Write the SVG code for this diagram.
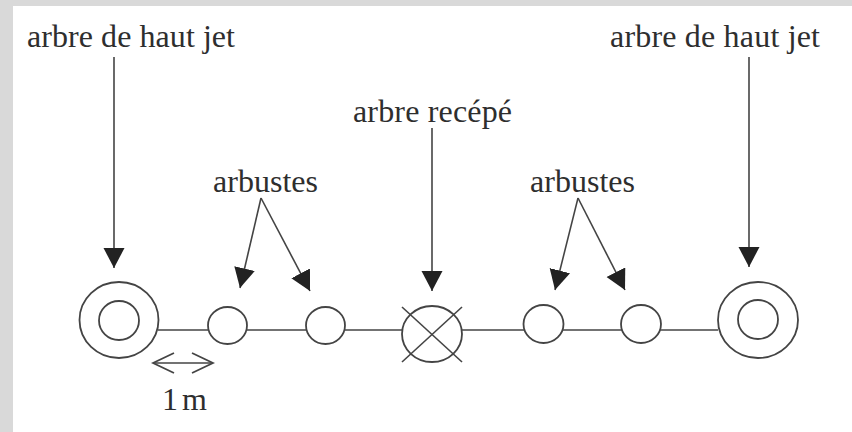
<svg xmlns="http://www.w3.org/2000/svg" width="852" height="432" viewBox="0 0 852 432">
  <style>
    .lbl { font-family: "Liberation Serif", "Times New Roman", serif; font-size: 32px; fill: #2e2e2e; }
    .ln { stroke: #444; stroke-width: 1.6; fill: none; }
    .c { stroke: #444; stroke-width: 1.8; fill: #fff; }
  </style>
  <defs>
    <marker id="ah" markerUnits="userSpaceOnUse" markerWidth="21" markerHeight="22" refX="20" refY="10.5" orient="auto">
      <path d="M0,0 L20,10.5 L0,21 z" fill="#222"/>
    </marker>
    <marker id="oh" markerUnits="userSpaceOnUse" markerWidth="24" markerHeight="24" refX="22" refY="11" orient="auto-start-reverse">
      <path d="M1,1 L22,11 L1,21" fill="none" stroke="#444" stroke-width="1.8"/>
    </marker>
  </defs>
  <rect x="0" y="0" width="852" height="432" fill="#d9d9d9"/>
  <rect x="13" y="6" width="839" height="426" fill="#fff"/>

  <g id="labels">
    <text class="lbl" x="27" y="47" textLength="208">arbre de haut jet</text>
    <text class="lbl" x="610" y="47" textLength="210">arbre de haut jet</text>
    <text class="lbl" x="353" y="122" textLength="159">arbre recépé</text>
    <text class="lbl" x="213" y="192" textLength="105">arbustes</text>
    <text class="lbl" x="530" y="192" textLength="105">arbustes</text>
    <text class="lbl" x="162" y="410" textLength="45">1 m</text>
  </g>

  <g id="connectors">
    <line class="ln" x1="158" y1="330" x2="718" y2="330"/>
    <line class="ln" x1="114" y1="57" x2="114" y2="268" marker-end="url(#ah)"/>
    <line class="ln" x1="749" y1="57" x2="749" y2="267" marker-end="url(#ah)"/>
    <line class="ln" x1="432" y1="128" x2="432" y2="291" marker-end="url(#ah)"/>
    <line class="ln" x1="261" y1="198" x2="240" y2="288" marker-end="url(#ah)"/>
    <line class="ln" x1="261" y1="198" x2="310" y2="291" marker-end="url(#ah)"/>
    <line class="ln" x1="578" y1="198" x2="555" y2="290" marker-end="url(#ah)"/>
    <line class="ln" x1="578" y1="198" x2="625" y2="290" marker-end="url(#ah)"/>
    <line class="ln" x1="153" y1="363" x2="213" y2="363" marker-start="url(#oh)" marker-end="url(#oh)"/>
  </g>

  <g id="tree-left">
    <ellipse class="c" cx="119" cy="320" rx="39.5" ry="38"/>
    <ellipse class="c" cx="119" cy="320.5" rx="20" ry="19.5"/>
  </g>
  <g id="shrub-1"><ellipse class="c" cx="227.5" cy="325.5" rx="19.5" ry="18.5"/></g>
  <g id="shrub-2"><ellipse class="c" cx="325.5" cy="325.5" rx="19.5" ry="18.5"/></g>
  <g id="tree-coppiced">
    <ellipse class="c" cx="432" cy="334" rx="30" ry="28"/>
    <line class="ln" x1="402" y1="307" x2="462" y2="362"/>
    <line class="ln" x1="462" y1="307" x2="402" y2="362"/>
  </g>
  <g id="shrub-3"><ellipse class="c" cx="543.5" cy="324" rx="20" ry="19"/></g>
  <g id="shrub-4"><ellipse class="c" cx="641" cy="324" rx="20" ry="19"/></g>
  <g id="tree-right">
    <ellipse class="c" cx="758" cy="320" rx="40" ry="38"/>
    <ellipse class="c" cx="758" cy="319.5" rx="20" ry="19.5"/>
  </g>
</svg>
